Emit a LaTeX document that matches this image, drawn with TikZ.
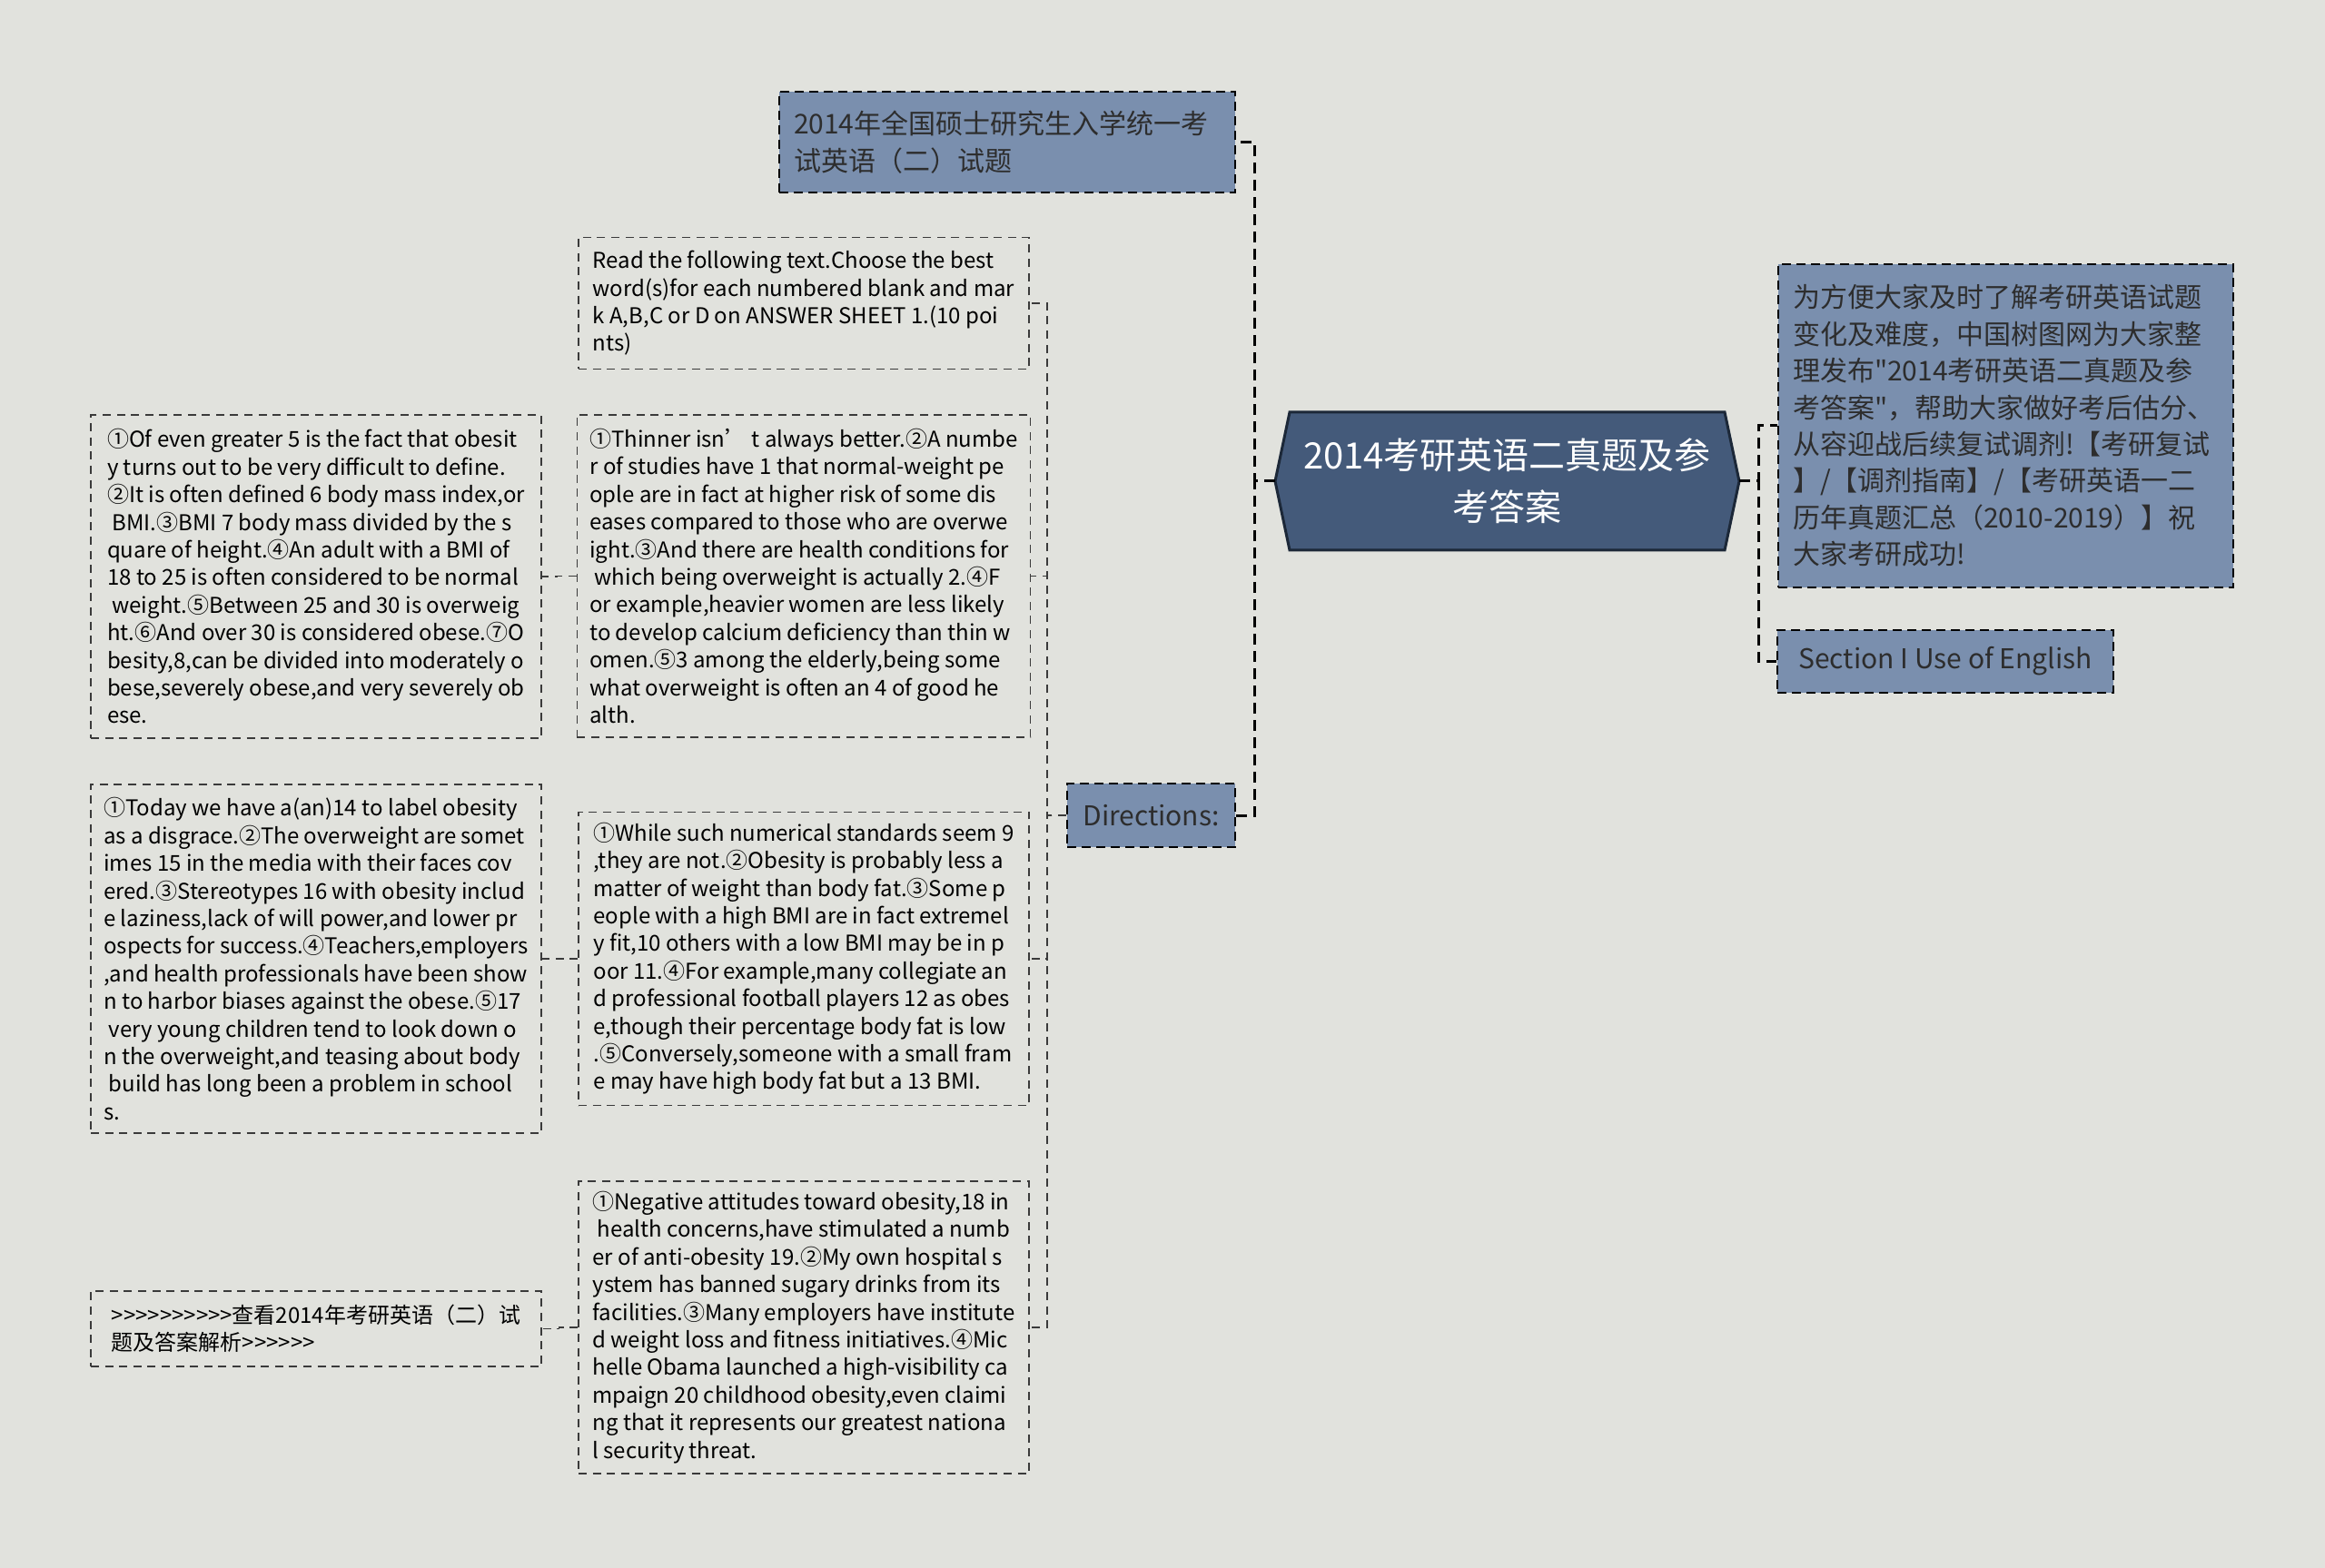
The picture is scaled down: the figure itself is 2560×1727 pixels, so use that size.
\documentclass[tikz,border=0pt]{standalone}
\usepackage{fontspec}
\setmainfont{Noto Sans CJK SC}[Ligatures=TeXOff]
\usetikzlibrary{positioning}

\definecolor{bgcol}{HTML}{E1E2DD}
\definecolor{rootcol}{HTML}{445A7A}
\definecolor{rootline}{HTML}{1C2838}
\definecolor{subcol}{HTML}{7A8FAE}
\definecolor{subtext}{HTML}{2D2D2D}
\definecolor{leafline}{HTML}{3A3A3A}

\tikzset{
  sub/.style={draw=black, fill=subcol, line width=1pt, dash pattern=on 5pt off 3pt,
    text=subtext, font=\fontsize{15}{20.2}\selectfont, inner xsep=8pt, inner ysep=0pt},
  leaf/.style={draw=leafline, line width=0.65pt, dash pattern=on 4.5pt off 3.3pt,
    text=black, font=\fontsize{12}{15.2}\selectfont, align=left,
    minimum width=248pt, inner xsep=7pt, inner ysep=0pt},
  link/.style={draw=black, line width=1.5pt, dash pattern=on 6pt off 3.5pt},
  leaflink/.style={draw=leafline, line width=0.65pt, dash pattern=on 4.5pt off 3.3pt},
}

\begin{document}
\begin{tikzpicture}[x=0.5pt, y=-0.5pt]
  \fill[bgcol] (0,0) rectangle (2560,1727);
  \useasboundingbox (0,0) rectangle (2560,1727);

  % root
  \filldraw[fill=rootcol, draw=rootline, line width=1.5pt]
    (1404,530) -- (1420,454) -- (1899,454) -- (1915,530) -- (1899,606) -- (1420,606) -- cycle;
  \node[text=white, font=\fontsize{20}{28.4}\selectfont, align=center,
    minimum width=255.5pt, minimum height=76pt, inner sep=0pt] (root) at (1659.5,530)
    {2014考研英语二真题及参\\考答案};

  % first level
  \node[sub, align=left, text width=235pt, minimum height=55.5pt] (exam) at (1109,156.5)
    {2014年全国硕士研究生入学统一考\\试英语（二）试题};
  \node[sub, minimum width=92.5pt, minimum height=35pt] (dir) at (1267.5,898) {Directions:};
  \node[sub, align=left, text width=234.5pt, minimum height=178pt] (intro) at (2208.5,469)
    {为方便大家及时了解考研英语试题\\变化及难度，中国树图网为大家整\\理发布"2014考研英语二真题及参\\考答案"，帮助大家做好考后估分、\\从容迎战后续复试调剂!【考研复试\\】/【调剂指南】/【考研英语一二\\历年真题汇总（2010-2019）】祝\\大家考研成功!};
  \node[sub, minimum width=185pt, minimum height=34.5pt] (sec) at (2142,728.5) {Section I Use of English};

  % second level
  \node[leaf, minimum height=72.5pt] (read) at (885,334)
    {Read the following text.Choose the best\\word(s)for each numbered blank and mar\\k A,B,C or D on ANSWER SHEET 1.(10 poi\\nts)};
  \node[leaf, minimum height=177.5pt] (thin) at (885,634.5)
    {①Thinner isn’ t always better.②A numbe\\r of studies have 1 that normal-weight pe\\ople are in fact at higher risk of some dis\\eases compared to those who are overwe\\ight.③And there are health conditions for\\\mbox{} which being overweight is actually 2.④F\\or example,heavier women are less likely\\to develop calcium deficiency than thin w\\omen.⑤3 among the elderly,being some\\what overweight is often an 4 of good he\\alth.};
  \node[leaf, minimum height=161.5pt] (numstd) at (885,1056)
    {①While such numerical standards seem 9\\,they are not.②Obesity is probably less a\\matter of weight than body fat.③Some p\\eople with a high BMI are in fact extremel\\y fit,10 others with a low BMI may be in p\\oor 11.④For example,many collegiate an\\d professional football players 12 as obes\\e,though their percentage body fat is low\\.⑤Conversely,someone with a small fram\\e may have high body fat but a 13 BMI.};
  \node[leaf, minimum height=161pt] (attit) at (885,1462)
    {①Negative attitudes toward obesity,18 in\\\mbox{} health concerns,have stimulated a numb\\er of anti-obesity 19.②My own hospital s\\ystem has banned sugary drinks from its\\facilities.③Many employers have institute\\d weight loss and fitness initiatives.④Mic\\helle Obama launched a high-visibility ca\\mpaign 20 childhood obesity,even claimi\\ng that it represents our greatest nationa\\l security threat.};

  % third level
  \node[leaf, minimum height=178pt] (bmi) at (348,635)
    {①Of even greater 5 is the fact that obesit\\y turns out to be very difficult to define.\\②It is often defined 6 body mass index,or\\\mbox{} BMI.③BMI 7 body mass divided by the s\\quare of height.④An adult with a BMI of\\18 to 25 is often considered to be normal\\\mbox{} weight.⑤Between 25 and 30 is overweig\\ht.⑥And over 30 is considered obese.⑦O\\besity,8,can be divided into moderately o\\bese,severely obese,and very severely ob\\ese.};
  \node[leaf, minimum height=192pt] (stigma) at (348,1056)
    {①Today we have a(an)14 to label obesity\\as a disgrace.②The overweight are somet\\imes 15 in the media with their faces cov\\ered.③Stereotypes 16 with obesity includ\\e laziness,lack of will power,and lower pr\\ospects for success.④Teachers,employers\\,and health professionals have been show\\n to harbor biases against the obese.⑤17\\\mbox{} very young children tend to look down o\\n the overweight,and teasing about body\\\mbox{} build has long been a problem in school\\s.};
  \node[leaf, minimum height=41.5pt] (more) at (348,1463.5)
    {>>>>>>>>>>查看2014年考研英语（二）试\\题及答案解析>>>>>>};

  % connectors
  \draw[link] (root.west) -- ++(-22,0) |- (exam.east);
  \draw[link] (root.west) -- ++(-22,0) |- (dir.east);
  \draw[link] (root.east) -- ++(21,0) |- (intro.west);
  \draw[link] (root.east) -- ++(21,0) |- (sec.west);

  \foreach \t in {read,thin,numstd,attit}
    \draw[leaflink] (dir.west) -- ++(-21,0) |- (\t.east);

  \draw[leaflink] (thin.west) -- ++(-21,0) |- (bmi.east);
  \draw[leaflink] (numstd.west) -- ++(-21,0) |- (stigma.east);
  \draw[leaflink] (attit.west) -- ++(-21,0) |- (more.east);
\end{tikzpicture}
\end{document}
